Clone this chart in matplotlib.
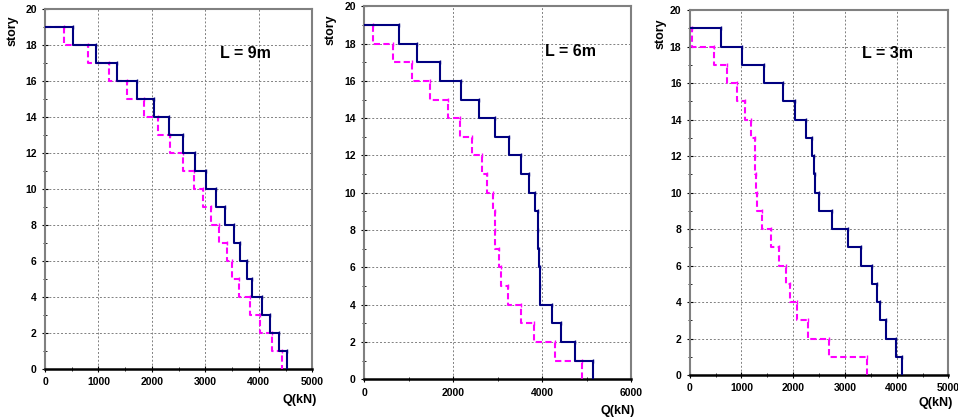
import numpy as np
import matplotlib.pyplot as plt
import matplotlib.transforms as mtransforms
from matplotlib.ticker import MultipleLocator

plt.rcParams['font.family'] = ['Liberation Sans', 'DejaVu Sans']
plt.rcParams['font.weight'] = 'bold'

stories = np.arange(19, 0, -1)  # 19 ... 1

# story shear Q(kN), from story 19 down to story 1
q_9m_blue = [520, 945, 1345, 1725, 2030, 2310, 2575, 2810, 3020, 3195,
             3370, 3530, 3645, 3770, 3880, 4060, 4210, 4370, 4520]
q_9m_pink = [360, 800, 1190, 1540, 1845, 2110, 2345, 2580, 2780, 2955,
             3100, 3255, 3395, 3500, 3625, 3830, 4020, 4245, 4440]
q_6m_blue = [790, 1180, 1705, 2170, 2580, 2945, 3265, 3520, 3695, 3830,
             3895, 3905, 3935, 3950, 3955, 4220, 4420, 4730, 5145]
q_6m_pink = [205, 640, 1080, 1480, 1875, 2155, 2430, 2650, 2770, 2885,
             2935, 2950, 3035, 3070, 3230, 3520, 3820, 4295, 4895]
q_3m_blue = [605, 1010, 1440, 1795, 2035, 2245, 2370, 2405, 2425, 2490,
             2750, 3050, 3310, 3515, 3615, 3675, 3790, 3985, 4100]
q_3m_pink = [40, 470, 715, 905, 1070, 1185, 1255, 1270, 1280, 1305,
             1395, 1570, 1730, 1860, 1935, 2065, 2290, 2695, 3430]

labels = ['L = 9m', 'L = 6m', 'L = 3m']
xmax = [5000, 6000, 5000]
xmajor = [1000, 2000, 1000]
xminor = [500, 1000, 500]
label_pos = [(3750, 17.55), (4630, 17.6), (3820, 17.6)]

# axes boxes in figure fractions [left, bottom, width, height]
boxes = [[0.047, 0.119, 0.279, 0.859],
         [0.380, 0.095, 0.279, 0.890],
         [0.720, 0.105, 0.270, 0.871]]
story_pos = [(0.013, 0.926), (0.3455, 0.93), (0.689, 0.92)]
q_pos = [(0.331, 0.045), (0.663, 0.018), (0.995, 0.038)]


def step_xy(q):
    # horizontal at story k from previous Q to Q_k, then vertical down to k-1
    xs, ys = [0], [stories[0]]
    for k, v in zip(stories, q):
        xs += [v, v]
        ys += [k, k - 1]
    return xs, ys


fig = plt.figure(figsize=(9.58, 4.19), dpi=100)
data = [(q_9m_blue, q_9m_pink), (q_6m_blue, q_6m_pink), (q_3m_blue, q_3m_pink)]

for i in range(3):
    ax = fig.add_axes(boxes[i])
    blue, pink = data[i]
    xs, ys = step_xy(pink)
    ax.plot(xs, ys, color='#ff00ff', linestyle=(0, (3, 1.6)), linewidth=1.5, zorder=3)
    ax.plot(pink, stories, linestyle='none', marker='|', markersize=3, color='#ff00ff', zorder=3)
    xs, ys = step_xy(blue)
    ax.plot(xs, ys, color='#000080', linewidth=1.5, zorder=4)
    ax.plot(blue, stories, linestyle='none', marker='|', markersize=3, color='#000080', zorder=4)

    ax.set_xlim(0, xmax[i])
    ax.set_ylim(0, 20)
    ax.xaxis.set_major_locator(MultipleLocator(xmajor[i]))
    ax.xaxis.set_minor_locator(MultipleLocator(xminor[i]))
    ax.yaxis.set_major_locator(MultipleLocator(2))
    ax.yaxis.set_minor_locator(MultipleLocator(1))
    ax.grid(True, which='major', color='#808080', linestyle=(0, (2, 2)), linewidth=0.7)
    ax.set_axisbelow(True)
    for s in ['left', 'right', 'top']:
        ax.spines[s].set_color('#808080')
        ax.spines[s].set_linewidth(1.5)
    ax.spines['bottom'].set_color('black')
    ax.spines['bottom'].set_linewidth(1.8)
    ax.tick_params(axis='both', which='both', direction='inout', colors='black', labelsize=7.5)
    ax.tick_params(axis='both', which='major', length=5, width=0.8)
    ax.tick_params(axis='both', which='minor', length=3, width=0.6)
    for t in ax.get_xticklabels() + ax.get_yticklabels():
        t.set_fontweight('bold')
    fig.canvas.draw()
    last = ax.get_xticklabels()[-1]
    last.set_transform(last.get_transform() + mtransforms.ScaledTranslation(-4 / 100, 0, fig.dpi_scale_trans))

    ax.text(label_pos[i][0], label_pos[i][1], labels[i], fontsize=11.5,
            fontweight='bold', ha='center', va='center')
    fig.text(story_pos[i][0], story_pos[i][1], 'story', rotation=90, fontsize=9,
             fontweight='bold', ha='center', va='center')
    fig.text(q_pos[i][0], q_pos[i][1], 'Q(kN)', fontsize=9, fontweight='bold',
             ha='right', va='center')

fig.savefig('out.png', dpi=100)
